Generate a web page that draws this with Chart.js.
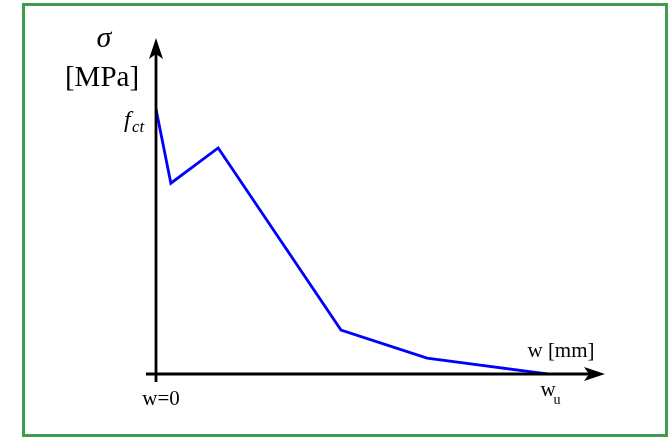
<!DOCTYPE html>
<html>
<head>
<meta charset="utf-8">
<script src="https://cdn.jsdelivr.net/npm/chart.js@4"></script>
<style>
  html, body { margin: 0; padding: 0; background: #fff; }
  #wrap { position: relative; width: 669px; height: 437px; }
</style>
</head>
<body>
<div id="wrap"><canvas id="softening" width="669" height="437"></canvas></div>
<script>
// crack opening w, normalised to w_u
const openings = [0, 0.038, 0.159, 0.473, 0.693, 1.0];
// stress sigma, normalised to f_ct
const stresses = [1.0, 0.72, 0.853, 0.166, 0.06, 0];
const xTicks = ['w=0', 'w'];

const serif = '"Liberation Serif", "DejaVu Serif", serif';

// axes with arrows, labels and the frame
const axesPlugin = {
  id: 'axesPlugin',
  afterDraw(chart) {
    const ctx = chart.ctx;
    const x = chart.scales.x, y = chart.scales.y;
    const x0 = x.getPixelForValue(0), y0 = y.getPixelForValue(0);
    const xEnd = x.right, yEnd = y.top;
    const xWu = x.getPixelForValue(1);

    ctx.save();
    // frame
    ctx.strokeStyle = '#3f9b4e';
    ctx.lineWidth = 3;
    ctx.strokeRect(23.5, 4.5, 643, 431);

    // axes
    ctx.strokeStyle = '#000';
    ctx.fillStyle = '#000';
    ctx.lineWidth = 2.8;
    ctx.beginPath();
    ctx.moveTo(x0 - 10, y0);
    ctx.lineTo(xEnd - 12, y0);
    ctx.moveTo(x0, y0 + 8);
    ctx.lineTo(x0, yEnd + 12);
    ctx.stroke();

    // arrow heads
    ctx.beginPath();
    ctx.moveTo(xEnd, y0);
    ctx.lineTo(xEnd - 21, y0 - 7);
    ctx.lineTo(xEnd - 16, y0);
    ctx.lineTo(xEnd - 21, y0 + 7);
    ctx.closePath();
    ctx.fill();
    ctx.beginPath();
    ctx.moveTo(x0, yEnd);
    ctx.lineTo(x0 - 7, yEnd + 21);
    ctx.lineTo(x0, yEnd + 16);
    ctx.lineTo(x0 + 7, yEnd + 21);
    ctx.closePath();
    ctx.fill();

    // labels
    ctx.textBaseline = 'alphabetic';
    ctx.textAlign = 'center';
    ctx.font = 'italic 30px ' + serif;
    ctx.fillText('\u03C3', 104, 47);
    ctx.font = '29px ' + serif;
    ctx.fillText('[MPa]', 102, 86);

    ctx.textAlign = 'left';
    ctx.font = 'italic 24px ' + serif;
    ctx.fillText('f', 124, 127);
    ctx.font = 'italic 17px ' + serif;
    ctx.fillText('ct', 132, 132);

    ctx.textAlign = 'center';
    ctx.font = '21px ' + serif;
    ctx.fillText(xTicks[0], x0 + 5, 405);
    ctx.fillText(xTicks[1], xWu + 1, 396);
    ctx.font = '14px ' + serif;
    ctx.fillText('u', xWu + 10, 404);

    ctx.font = '21px ' + serif;
    ctx.fillText('w [mm]', 561, 357);
    ctx.restore();
  }
};

new Chart(document.getElementById('softening'), {
  type: 'scatter',
  data: {
    datasets: [{
      data: openings.map((w, i) => ({ x: w, y: stresses[i] })),
      showLine: true,
      borderColor: '#0000ff',
      borderWidth: 2.8,
      pointRadius: 0,
      tension: 0
    }]
  },
  options: {
    responsive: false,
    animation: false,
    layout: { padding: { left: 156, right: 64, top: 38, bottom: 63 } },
    scales: {
      x: { type: 'linear', display: false, min: 0, max: 1.148 },
      y: { type: 'linear', display: false, min: 0, max: 1.268 }
    },
    plugins: { legend: { display: false }, tooltip: { enabled: false } }
  },
  plugins: [axesPlugin]
});
</script>
</body>
</html>
